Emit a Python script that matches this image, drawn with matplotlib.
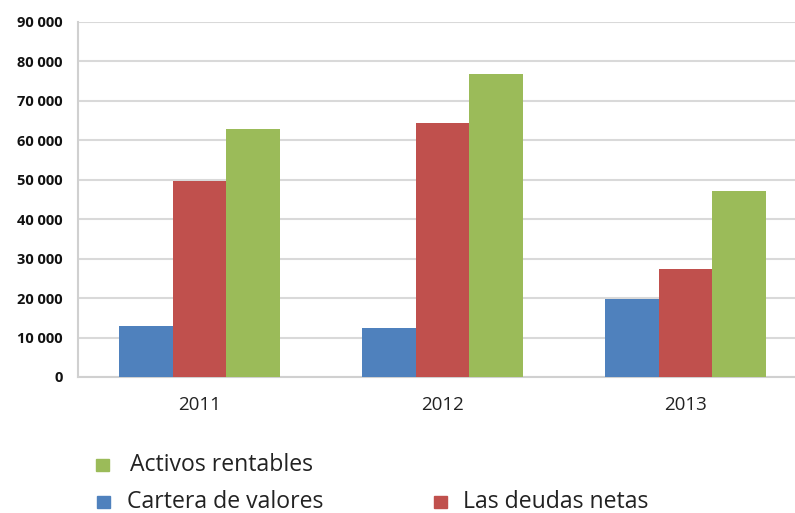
import matplotlib
matplotlib.use("Agg")
import matplotlib.pyplot as plt
from matplotlib.patches import Rectangle
from matplotlib.ticker import FuncFormatter
import numpy as np

years = ["2011", "2012", "2013"]
series_names = ["Cartera de valores", "Las deudas netas", "Activos rentables"]
cartera = [13000, 12500, 19800]
deudas = [49600, 64300, 27400]
activos = [62800, 76800, 47200]
y_ticks = [0, 10000, 20000, 30000, 40000, 50000, 60000, 70000, 80000, 90000]

c_blue = "#4f81bd"
c_red = "#c0504d"
c_green = "#9bbb59"

fig = plt.figure(figsize=(7.95, 5.13), dpi=100)
W, H = 795, 513
ax = fig.add_axes([78 / W, 1 - 377 / H, 729 / W, 355 / H])

x = np.arange(len(years))
bw = 0.222
ax.bar(x - bw, cartera, bw, color=c_blue, zorder=3)
ax.bar(x, deudas, bw, color=c_red, zorder=3)
ax.bar(x + bw, activos, bw, color=c_green, zorder=3)

ax.set_xlim(-0.5, 2.5)
ax.set_ylim(0, 90000)
ax.set_yticks(y_ticks)
ax.yaxis.set_major_formatter(FuncFormatter(lambda v, p: f"{int(v):,}".replace(",", " ")))
ax.set_xticks(x)
ax.set_xticklabels(years, fontsize=13.5, family="Open Sans", color="#222222")
for lab in ax.get_yticklabels():
    lab.set_fontsize(10.5)
    lab.set_fontweight("bold")
    lab.set_family("Open Sans")
    lab.set_color("#111111")

ax.grid(axis="y", color="#d9d9d9", linewidth=1.5, zorder=0)
for s in ["top", "right"]:
    ax.spines[s].set_visible(False)
ax.spines["left"].set_color("#d0d0d0")
ax.spines["left"].set_linewidth(1.5)
ax.spines["bottom"].set_color("#d0d0d0")
ax.spines["bottom"].set_linewidth(1.5)
ax.tick_params(axis="both", length=0)
ax.tick_params(axis="y", pad=11)
ax.tick_params(axis="x", pad=14)

# legend (manual layout matching reference): name, colour, square x, baseline y, text x
legend_items = [
    (series_names[2], c_green, 96, 471, 130),
    (series_names[0], c_blue, 97, 508, 127),
    (series_names[1], c_red, 434, 508, 463),
]
sq = 12.5
for name, col, sx, base, tx in legend_items:
    fig.patches.append(Rectangle((sx / W, 1 - base / H), sq / W, sq / H,
                                 transform=fig.transFigure, color=col))
    fig.text(tx / W, 1 - base / H, name, fontsize=16.6, family="Open Sans",
             color="#222222", va="baseline", ha="left")

fig.savefig("out.png", dpi=100)
